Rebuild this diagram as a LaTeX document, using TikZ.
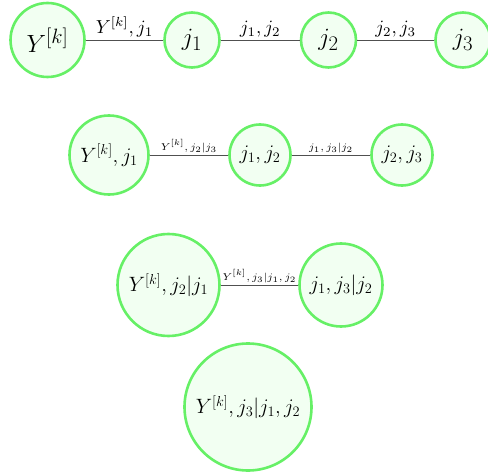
\documentclass[tikz,border=0pt]{standalone}
\usepackage{xcolor}
\definecolor{nodeedge}{RGB}{102,240,102}
\definecolor{nodefill}{RGB}{242,255,242}
\definecolor{edgecol}{RGB}{80,80,80}
\begin{document}
\begin{tikzpicture}[x=1pt,y=-1pt,
  cnode/.style={circle,draw=nodeedge,fill=nodefill,line width=2.6pt,inner sep=0pt},
  conn/.style={draw=edgecol,line width=0.9pt},
  fbig/.style={font=\fontsize{32}{35}\selectfont},
  fmid/.style={font=\fontsize{20}{24}\selectfont},
  fmidb/.style={font=\fontsize{21}{25}\selectfont},
  labbig/.style={above,inner sep=1pt,font=\normalsize,scale=1.88},
  labsmall/.style={above,inner sep=1pt,font=\fontsize{6}{7}\selectfont,scale=1.65}]
\useasboundingbox (0,0) rectangle (488,476);
% row 1
\node[cnode,minimum size=74pt,fbig] (a1) at (47.5,40) {$Y^{[k]}$};
\node[cnode,minimum size=55pt,fbig] (a2) at (192,40) {$j_1$};
\node[cnode,minimum size=55pt,fbig] (a3) at (328.5,40) {$j_2$};
\node[cnode,minimum size=55pt,fbig] (a4) at (463,40) {$j_3$};
\draw[conn] (a1) -- node[labbig]{$Y^{[k]},j_1$} (a2);
\draw[conn] (a2) -- node[labbig]{$j_1,j_2$} (a3);
\draw[conn] (a3) -- node[labbig]{$j_2,j_3$} (a4);
% row 2
\node[cnode,minimum size=79pt,fmid] (b1) at (109,155) {$Y^{[k]},j_1$};
\node[cnode,minimum size=61pt,fmid] (b2) at (260,155) {$j_1,j_2$};
\node[cnode,minimum size=61pt,fmid] (b3) at (402,155) {$j_2,j_3$};
\draw[conn] (b1) -- node[labsmall]{$Y^{[k]},j_2|j_3$} (b2);
\draw[conn] (b2) -- node[labsmall]{$j_1,j_3|j_2$} (b3);
% row 3
\node[cnode,minimum size=102pt,fmidb] (c1) at (168.5,285) {$Y^{[k]},j_2|j_1$};
\node[cnode,minimum size=83pt,fmidb] (c2) at (341,285) {$j_1,j_3|j_2$};
\draw[conn] (c1) -- node[labsmall]{$Y^{[k]},j_3|j_1,j_2$} (c2);
% row 4
\node[cnode,minimum size=127pt,fmidb] (d1) at (248,407) {$Y^{[k]},j_3|j_1,j_2$};
\end{tikzpicture}
\end{document}
